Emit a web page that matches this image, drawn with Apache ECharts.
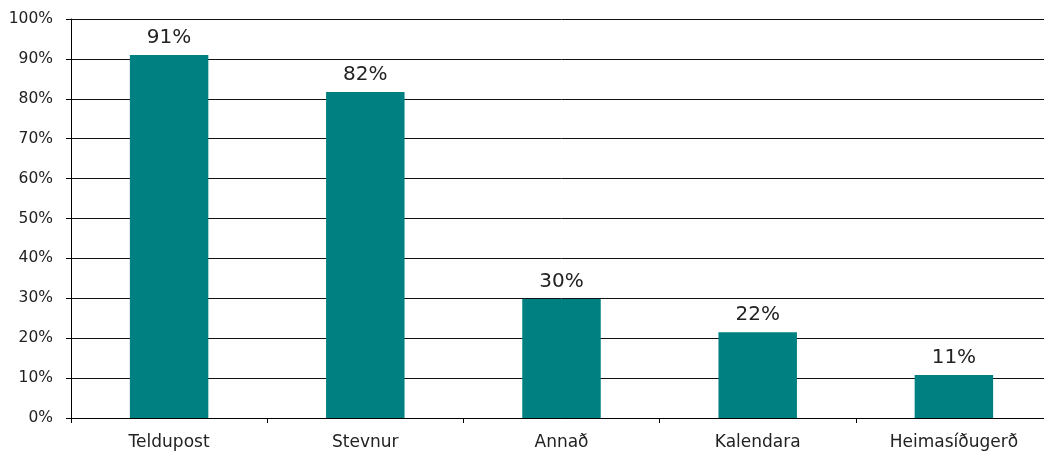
<!DOCTYPE html>
<html>
<head>
<meta charset="utf-8">
<script src="https://cdn.jsdelivr.net/npm/echarts@6/dist/echarts.min.js"></script>
<style>
  html, body { margin: 0; padding: 0; background: #fff; overflow: hidden; }
  /* the plot runs a few pixels past the right edge of the picture */
  #chart { width: 1052px; height: 454px; }
</style>
</head>
<body>
<div id="chart"></div>
<script>
// flokkar og virði (%)
const categories = ['Teldupost', 'Stevnur', 'Annað', 'Kalendara', 'Heimasíðugerð']
const values = [91, 81.7, 29.8, 21.5, 10.8]
const yTicks = [0, 10, 20, 30, 40, 50, 60, 70, 80, 90, 100]

const font = 'Verdana, "DejaVu Sans", sans-serif'
const mychart = echarts.init(document.getElementById('chart'))
mychart.setOption({
  animation: false,
  grid: { left: 71, top: 19, right: 0, bottom: 36 },
  xAxis: {
    type: 'category',
    data: categories,
    axisLine: { lineStyle: { color: '#000', width: 1 } },
    axisTick: { show: true, length: 5, lineStyle: { color: '#000' } },
    axisLabel: { color: '#222', fontFamily: font, fontSize: 17, margin: 16 },
  },
  yAxis: {
    type: 'value',
    min: yTicks[0],
    max: yTicks[yTicks.length - 1],
    interval: 10,
    axisLine: { show: true, lineStyle: { color: '#000' } },
    axisTick: { show: true, length: 5, lineStyle: { color: '#000' } },
    splitLine: { lineStyle: { color: '#111', width: 1 } },
    axisLabel: { color: '#222', fontFamily: font, fontSize: 15.5, margin: 18, formatter: '{value}%' },
  },
  series: [
    {
      type: 'bar',
      data: values,
      barWidth: '40%',
      itemStyle: { color: '#008080' },
      label: {
        show: true,
        position: 'top',
        distance: 7,
        color: '#222',
        fontFamily: font,
        fontSize: 20,
        formatter: (p) => Math.round(p.value) + '%',
      },
    },
  ],
})
</script>
</body>
</html>
